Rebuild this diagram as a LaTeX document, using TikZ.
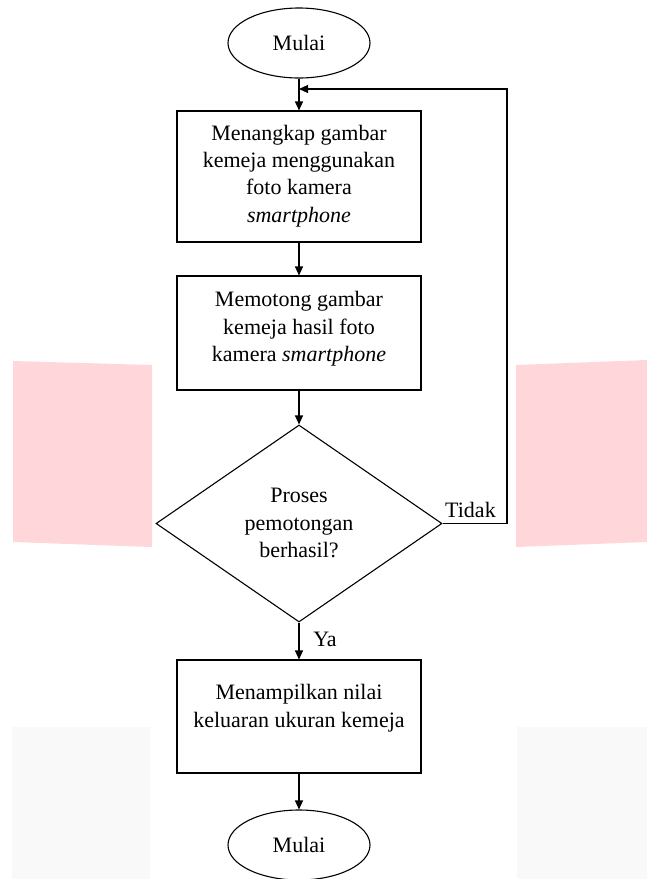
\documentclass[tikz,border=0pt]{standalone}
\usepackage{fontspec}
\setmainfont{Liberation Serif}
\usetikzlibrary{shapes.geometric,arrows.meta}
\begin{document}
\begin{tikzpicture}[x=1pt,y=-1pt,
  every node/.style={font=\fontsize{22}{27.4}\selectfont},
  boxnode/.style={draw, line width=1.1pt, rectangle, minimum width=244pt, inner sep=0pt},
  txt/.style={align=center, inner sep=0pt},
  term/.style={draw, line width=1.1pt, ellipse, minimum width=142pt, minimum height=70pt, inner sep=0pt},
  dec/.style={draw, line width=1.1pt, diamond, minimum width=286pt, minimum height=197pt, inner sep=0pt},
  arr/.style={line width=1.1pt, -{Triangle[length=9pt,width=8pt]}},
  conn/.style={line width=1.1pt}]
\useasboundingbox (0,0) rectangle (647,879);
% background shapes
\fill[pink!60!white, fill={rgb,255:red,255;green,215;blue,218}] (13,361) -- (152,365) -- (152,547) -- (13,542) -- cycle;
\fill[fill={rgb,255:red,255;green,215;blue,218}] (516,365) -- (647,360) -- (647,542) -- (516,547) -- cycle;
\fill[fill={rgb,255:red,249;green,249;blue,249}] (12,727) rectangle (150,879);
\fill[fill={rgb,255:red,249;green,249;blue,249}] (517,727) rectangle (647,879);
% nodes
\node[term] (start) at (299,43) {Mulai};
\node[boxnode, minimum height=131pt] (b1) at (299,176.5) {};
\node[txt] (t1) at (299,176) {Menangkap gambar\\kemeja menggunakan\\foto kamera\\\textit{smartphone}};
\node[boxnode, minimum height=114pt] (b2) at (299,333) {};
\node[txt] (t2) at (299,329) {Memotong gambar\\kemeja hasil foto\\kamera \textit{smartphone}};
\node[dec] (d) at (299,523.5) {};
\node[txt] (td) at (299,523) {Proses\\pemotongan\\berhasil?};
\node[boxnode, minimum height=113pt] (b3) at (299,716.5) {};
\node[txt] (t3) at (299,708) {Menampilkan nilai\\keluaran ukuran kemeja};
\node[term] (end) at (299,845) {Mulai};
\node[anchor=south west, inner sep=0pt] (tidak) at (445,518) {Tidak};
\node[inner sep=0pt] (ya) at (325,639) {Ya};
% connectors
\coordinate (cR) at (507,523.5);
\coordinate (j) at (299,89);
\draw[arr] (start) -- (b1);
\draw[arr] (b1) -- (b2);
\draw[arr] (b2) -- (d);
\draw[arr] (d) -- (b3);
\draw[arr] (b3) -- (end);
\draw[arr] (d.east) -- (cR) |- (j);
\end{tikzpicture}
\end{document}
